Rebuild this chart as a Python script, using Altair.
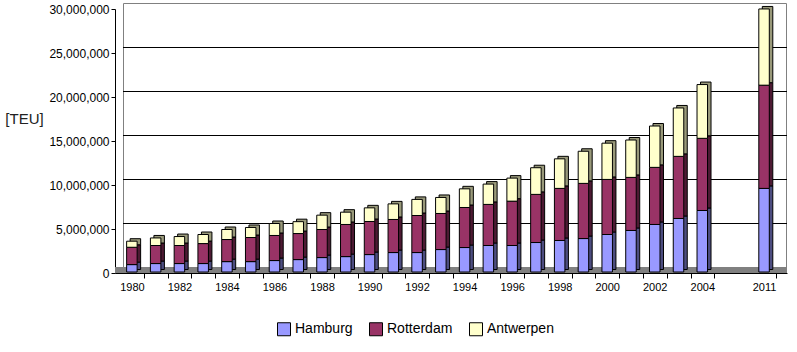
import altair as alt
import pandas as pd

# ---- data (TEU, millions) ----
years = [1980, 1981, 1982, 1983, 1984, 1985, 1986, 1987, 1988, 1989, 1990, 1991, 1992,
         1993, 1994, 1995, 1996, 1997, 1998, 1999, 2000, 2001, 2002, 2003, 2004, 2011]
hamburg = [0.84, 0.96, 0.96, 0.96, 1.18, 1.18, 1.30, 1.41, 1.64, 1.75, 1.98, 2.21, 2.21,
           2.55, 2.78, 3.01, 3.01, 3.35, 3.58, 3.80, 4.26, 4.72, 5.40, 6.08, 6.99, 9.50]
rotterdam = [1.97, 2.05, 2.05, 2.27, 2.51, 2.74, 2.85, 2.96, 3.19, 3.65, 3.76, 3.76, 4.21,
             4.10, 4.55, 4.67, 5.04, 5.47, 5.92, 6.27, 6.26, 6.03, 6.49, 7.06, 8.20, 11.73]
antwerpen = [0.69, 0.86, 1.02, 1.03, 1.14, 1.14, 1.36, 1.35, 1.63, 1.40, 1.55, 1.77, 1.83,
             1.82, 2.12, 2.31, 2.62, 3.03, 3.36, 3.65, 4.12, 4.25, 4.70, 5.50, 6.11, 8.66]
ports = ["Hamburg", "Rotterdam", "Antwerpen"]
y_ticks = [0, 5000000, 10000000, 15000000, 20000000, 25000000, 30000000]
grid_values = [5000000, 10000000, 15000000, 20000000, 25000000]

# ---- styles / layout ----
front_colors = ["#9999ff", "#993366", "#ffffcc"]
side_colors = ["#4d4d80", "#4d1a33", "#99997a"]
W, H = 672, 264
GAP_2011 = 2.6          # extra category slots between 2004 and 2011 (layout)
SLOT_PX = 24.125
FONT = "Liberation Sans"


def slot(yr):
    return yr - 1980 if yr <= 2004 else 24 + GAP_2011


rows = []
for i, yr in enumerate(years):
    for k, (p, vals) in enumerate(zip(ports, [hamburg, rotterdam, antwerpen])):
        rows.append({"year": yr, "slot": slot(yr), "port": p, "order": k,
                     "teu": vals[i] * 1_000_000})
df = pd.DataFrame(rows)

x_values = [slot(y) for y in years]
label_expr = ("datum.value > 25 ? '2011' : (datum.value % 2 == 0 ? '' + (1980 + datum.value) : '')")

xaxis = alt.Axis(values=x_values, labelExpr=label_expr, tickOffset=SLOT_PX / 2,
                 labelOffset=-SLOT_PX / 2, grid=False, title=None, domainColor="black",
                 tickColor="black", tickSize=5, labelFont=FONT, labelFontSize=11,
                 labelColor="black", labelPadding=3, labelOverlap=False, labelFlush=False)
yaxis = alt.Axis(values=y_ticks, labelExpr="format(datum.value, ',')", grid=False,
                 title="[TEU]", titleAngle=0,
                 titleX=-91, titleY=109, titleAlign="center", titleBaseline="middle",
                 titleFont=FONT, titleFontSize=15, titleFontWeight="normal",
                 titleColor="#222222", domainColor="black", tickColor="black", tickSize=4,
                 labelFont=FONT, labelFontSize=12, labelColor="black", labelPadding=2)
xscale = alt.Scale(domain=[-0.5, W / SLOT_PX - 0.5], nice=False, zero=False)
yscale = alt.Scale(domain=[0, 30000000], nice=False)

wall_df = pd.DataFrame({"top": [30000000], "bottom": [0]})
wall = alt.Chart(wall_df).mark_rect(fill=None, stroke="#808080", strokeWidth=1,
                                    yOffset=-5.5, y2Offset=-5.5).encode(
    x=alt.value(8.5), x2=alt.value(W - 0.5),
    y=alt.Y("top:Q", scale=yscale, axis=yaxis), y2="bottom:Q")

grid = alt.Chart(pd.DataFrame({"v": grid_values})).mark_rule(
    color="black", strokeWidth=1, yOffset=-5.5).encode(
    x=alt.value(8), x2=alt.value(W), y=alt.Y("v:Q", scale=yscale, axis=yaxis))

floor = alt.Chart(pd.DataFrame({"v": [0]})).mark_rule(
    color="#808080", strokeWidth=6, yOffset=-3).encode(
    x=alt.value(0), x2=alt.value(W), y=alt.Y("v:Q", scale=yscale, axis=yaxis))

side = alt.Chart(df).mark_bar(width=10.5, xOffset=3.5, yOffset=-3.5, stroke="black",
                              strokeWidth=1).encode(
    x=alt.X("slot:Q", scale=xscale, axis=xaxis),
    y=alt.Y("teu:Q", stack="zero", scale=yscale, axis=yaxis),
    color=alt.Color("port:N", scale=alt.Scale(domain=ports, range=side_colors), legend=None),
    order=alt.Order("order:Q"))

front = alt.Chart(df).mark_bar(width=10.5, yOffset=-1, stroke="black", strokeWidth=1).encode(
    x=alt.X("slot:Q", scale=xscale, axis=xaxis),
    y=alt.Y("teu:Q", stack="zero", scale=yscale, axis=yaxis),
    color=alt.Color("port:N", scale=alt.Scale(domain=ports, range=front_colors),
                    legend=alt.Legend(title=None, orient="none", legendX=162, legendY=313,
                                      direction="horizontal", symbolType="square",
                                      symbolSize=169, symbolStrokeColor="black",
                                      symbolStrokeWidth=1, labelFont=FONT, labelFontSize=14,
                                      labelColor="black", labelOffset=4, columnPadding=14,
                                      padding=0, symbolOpacity=1)),
    order=alt.Order("order:Q"))

chart = alt.layer(wall, grid, floor, side, front).resolve_scale(
    color="independent"
).properties(
    width=W, height=H,
    padding={"left": 115, "top": 9, "right": 10, "bottom": 79},
    autosize=alt.AutoSizeParams(type="none"),
    background="white",
).configure_view(stroke=None)

chart.save("out.html", embed_options={"renderer": "svg", "actions": False})
